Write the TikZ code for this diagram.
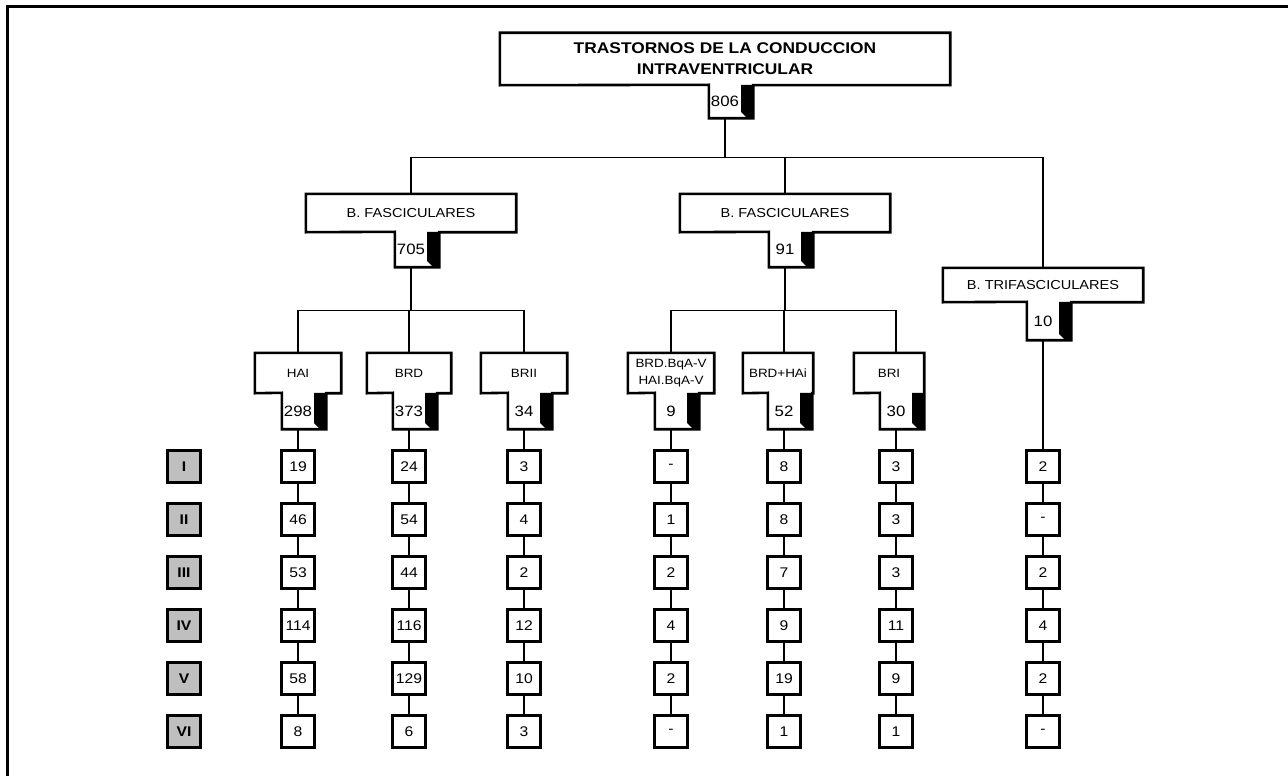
\documentclass[tikz,border=0pt]{standalone}
\usepackage{fontspec}
\setmainfont{Liberation Sans}[FakeStretch=1.12]
\usetikzlibrary{calc}

\tikzset{
  caja/.style={inner sep=0pt, align=center, font=\fontsize{13}{16}\selectfont},
  subcaja/.style={caja, font=\fontsize{12}{17}\selectfont},
  pestana/.style={inner sep=0pt, minimum width=32pt, font=\fontsize{15}{17}\selectfont},
  borde/.style={line width=2.6pt, line join=miter},
  dato/.style={draw, line width=2.8pt, minimum width=33pt, minimum height=32pt, inner sep=0pt, font=\fontsize{14}{16}\selectfont},
  fila/.style={dato, fill=black!25, font=\fontsize{14}{16}\selectfont\bfseries},
  linea/.style={line width=1.3pt},
}

\begin{document}
\begin{tikzpicture}[x=1pt, y=-1pt]
\useasboundingbox (0,0) rectangle (1288,776);
\draw [line width=3pt] (7,776) -- (7,7) -- (1288,7);

% cajas en T
\node[caja, minimum width=450pt, minimum height=52pt, font=\fontsize{15.5}{21}\selectfont\bfseries] (tit) at (725,59) {TRASTORNOS DE LA CONDUCCION\\INTRAVENTRICULAR};
\node[pestana, minimum height=33pt] (n806) at (725,101.5) {806};

\node[caja, minimum width=210pt, minimum height=38pt] (bfa) at (411,213) {B. FASCICULARES};
\node[pestana, minimum height=35pt] (n705) at (411,249.5) {705};
\node[caja, minimum width=210pt, minimum height=38pt] (bfb) at (785,213) {B. FASCICULARES};
\node[pestana, minimum height=35pt] (n91) at (785,249.5) {91};
\node[caja, minimum width=200pt, minimum height=34pt] (btri) at (1043,285) {B. TRIFASCICULARES};
\node[pestana, minimum height=38pt] (n10) at (1043,321) {10};

\node[subcaja, minimum width=86pt, minimum height=40pt] (hai) at (298,373) {HAI};
\node[pestana, minimum height=36pt] (n298) at (298,411) {298};
\node[subcaja, minimum width=84pt, minimum height=40pt] (brd) at (409,373) {BRD};
\node[pestana, minimum height=36pt] (n373) at (409,411) {373};
\node[subcaja, minimum width=86pt, minimum height=40pt] (brii) at (524,373) {BRII};
\node[pestana, minimum height=36pt] (n34) at (524,411) {34};
\node[subcaja, minimum width=86pt, minimum height=40pt] (bqa) at (671,373) {BRD.BqA-V\\HAI.BqA-V};
\node[pestana, minimum height=36pt] (n9) at (671,411) {9};
\node[subcaja, minimum width=70pt, minimum height=40pt] (brdhai) at (778,373) {BRD+HAi};
\node[pestana, minimum height=36pt] (n52) at (784,411) {52};
\node[subcaja, minimum width=70pt, minimum height=40pt] (bri) at (889,373) {BRI};
\node[pestana, minimum height=36pt] (n30) at (896,411) {30};

\foreach \b/\t in {tit/n806, bfa/n705, bfb/n91, btri/n10, hai/n298, brd/n373, brii/n34, bqa/n9, brdhai/n52, bri/n30} {
  \fill (\t.north east) -- ++(12,0) -- ($(\t.south east)+(12,0)$) -- ++(-6,0) -- ++(-6,-6) -- cycle;
  \draw[borde] (\b.north west) -| (\b.south east) -| ($(\t.south east)+(12,0)$) -| (\t.north west) -- (\b.south west) -- cycle;
}

% ramas
\draw[linea] (n806.south) -- ++(0,39) coordinate (eje);
\draw[linea] (bfa.north) |- (btri.north |- eje) -- (btri.north);
\draw[linea] (bfb.north) -- (bfb.north |- eje);

\draw[linea] (n705.south) -- ++(0,43) coordinate (ejea);
\draw[linea] (hai.north) |- (brii.north |- ejea) -- (brii.north);
\draw[linea] (brd.north) -- (brd.north |- ejea);

\draw[linea] (n91.south) -- ++(0,43) coordinate (ejeb);
\draw[linea] (bqa.north) |- (n30 |- ejeb) -- (bri.north -| n30);
\draw[linea] (brdhai.north -| n52) -- (n52 |- ejeb);

% filas
\foreach \r [count=\i] in {I,II,III,IV,V,VI}
  \node[fila] (f\i) at (184,{466.5+53*(\i-1)}) {\r};

\foreach \t/\lista in {n298/{19,46,53,114,58,8}, n373/{24,54,44,116,129,6}, n34/{3,4,2,12,10,3},
    n9/{-,1,2,4,2,-}, n52/{8,8,7,9,19,1}, n30/{3,3,3,11,9,1}, n10/{2,-,2,4,2,-}} {
  \foreach \v [count=\i] in \lista
    \node[dato] (\t-\i) at (\t |- f\i) {\v};
  \draw[linea] (\t.south) -- (\t-1.north);
  \foreach \i [evaluate=\i as \j using int(\i-1)] in {2,...,6}
    \draw[linea] (\t-\j.south) -- (\t-\i.north);
}
\end{tikzpicture}
\end{document}
